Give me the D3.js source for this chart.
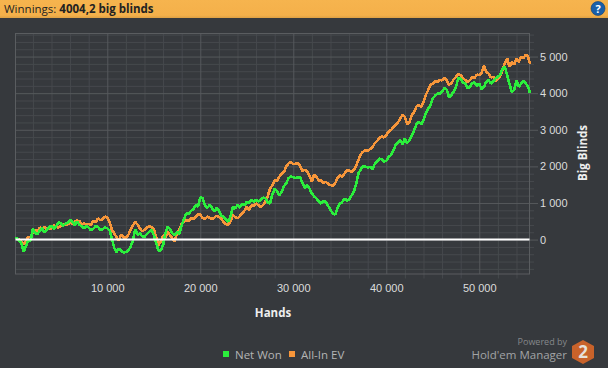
<!DOCTYPE html>
<html>
<head>
<meta charset="utf-8">
<script src="https://cdn.jsdelivr.net/npm/d3@7"></script>
<style>
  html, body { margin: 0; padding: 0; background: #36393d; }
  svg { display: block; font-family: "Open Sans", sans-serif; }
</style>
</head>
<body>
<div id="chart"></div>
<script>
const hands = [130, 250, 500, 750, 1000, 1250, 1500, 1750, 2000, 2250, 2500, 2750, 3000, 3250, 3500, 3750, 4000, 4250, 4500, 4750, 5000, 5250, 5500, 5750, 6000, 6250, 6500, 6750, 7000, 7250, 7500, 7750, 8000, 8250, 8500, 8750, 9000, 9250, 9500, 9750,
  10000, 10250, 10500, 10750, 11000, 11250, 11500, 11750, 12000, 12250, 12500, 12750, 13000, 13250, 13500, 13750, 14000, 14250, 14500, 14750, 15000, 15250, 15500, 15750, 16000, 16250, 16500, 16750, 17000, 17250, 17500, 17750, 18000, 18250, 18500, 18750, 19000, 19250, 19500, 19750,
  20000, 20250, 20500, 20750, 21000, 21250, 21500, 21750, 22000, 22250, 22500, 22750, 23000, 23250, 23500, 23750, 24000, 24250, 24500, 24750, 25000, 25250, 25500, 25750, 26000, 26250, 26500, 26750, 27000, 27250, 27500, 27750, 28000, 28250, 28500, 28750, 29000, 29250, 29500, 29750,
  30000, 30250, 30500, 30750, 31000, 31250, 31500, 31750, 32000, 32250, 32500, 32750, 33000, 33250, 33500, 33750, 34000, 34250, 34500, 34750, 35000, 35250, 35500, 35750, 36000, 36250, 36500, 36750, 37000, 37250, 37500, 37750, 38000, 38250, 38500, 38750, 39000, 39250, 39500, 39750,
  40000, 40250, 40500, 40750, 41000, 41250, 41500, 41750, 42000, 42250, 42500, 42750, 43000, 43250, 43500, 43750, 44000, 44250, 44500, 44750, 45000, 45250, 45500, 45750, 46000, 46250, 46500, 46750, 47000, 47250, 47500, 47750, 48000, 48250, 48500, 48750, 49000, 49250, 49500, 49750,
  50000, 50250, 50500, 50750, 51000, 51250, 51500, 51750, 52000, 52250, 52500, 52750, 53000, 53250, 53500, 53750, 54000, 54250, 54500, 54750, 55000, 55250, 55450];

const netWon = [30, 45, -15, -90, -330, -190, -15, -40, 305, 170, 150, 250, 315, 190, 260, 340, 380, 290, 370, 470, 440, 380, 440, 450, 550, 490, 395, 500, 405, 360, 305, 370, 330, 250, 295, 370, 350, 260, 280, 340,
  305, 250, 20, -230, -335, -250, -305, -350, -335, -310, -195, -30, 280, 130, 170, 90, 75, 150, 215, 260, 125, -90, -305, -300, -150, 180, 350, 290, 170, 120, 215, 150, 395, 560, 715, 690, 785, 830, 940, 900,
  1160, 1130, 940, 870, 940, 870, 760, 860, 805, 650, 625, 560, 485, 640, 895, 850, 940, 870, 985, 930, 1035, 1000, 1095, 1040, 1095, 1040, 1080, 1150, 1125, 1020, 985, 1230, 1395, 1330, 1215, 1310, 1465, 1540, 1680, 1720,
  1705, 1680, 1705, 1690, 1535, 1410, 1490, 1390, 1260, 1180, 1125, 1040, 985, 1060, 1035, 920, 805, 720, 680, 850, 985, 1020, 1125, 1070, 1080, 1200, 1305, 1500, 1805, 1920, 2010, 2000, 1965, 1990, 1920, 2060, 2125, 2210, 2200, 2130,
  2150, 2260, 2305, 2430, 2580, 2640, 2715, 2610, 2760, 2640, 2715, 2850, 2990, 3150, 3215, 3150, 3260, 3450, 3580, 3660, 3855, 3930, 3990, 3980, 4040, 4140, 4100, 3880, 3945, 4050, 4170, 4420, 4400, 4280, 4265, 4140, 4170, 4280, 4290, 4200,
  4265, 4110, 4170, 4310, 4355, 4260, 4325, 4400, 4445, 4500, 4670, 4720, 4490, 4250, 4035, 4090, 4355, 4170, 4265, 4350, 4265, 4180, 4004];

const allInEv = [50, 30, 5, -60, -130, -40, 75, 60, 215, 270, 225, 330, 305, 350, 285, 300, 305, 390, 350, 330, 370, 410, 395, 420, 460, 440, 485, 520, 505, 400, 440, 420, 425, 400, 515, 480, 580, 530, 560, 630,
  605, 480, 260, 170, 60, -20, 145, 60, 50, 120, 260, 380, 485, 410, 305, 230, 260, 330, 370, 340, 280, 80, -150, -60, 120, 50, 215, 120, 30, -50, 170, 270, 440, 490, 530, 500, 580, 560, 625, 690,
  680, 590, 560, 630, 600, 560, 600, 650, 625, 570, 485, 420, 395, 500, 670, 620, 580, 640, 715, 790, 895, 800, 940, 930, 985, 940, 895, 940, 1035, 1180, 1395, 1480, 1625, 1600, 1715, 1800, 1850, 2000, 2080, 2120,
  2060, 2070, 2090, 2000, 1870, 1910, 1850, 1740, 1580, 1780, 1715, 1600, 1625, 1540, 1580, 1520, 1490, 1470, 1535, 1680, 1760, 1720, 1805, 1880, 1895, 1850, 1895, 2020, 2170, 2330, 2400, 2440, 2420, 2470, 2510, 2630, 2690, 2770, 2815, 2790,
  2855, 2950, 2990, 3070, 3125, 3200, 3310, 3400, 3355, 3150, 3215, 3400, 3490, 3640, 3670, 3620, 3765, 3950, 4080, 4220, 4265, 4330, 4310, 4370, 4345, 4430, 4355, 4230, 4265, 4380, 4445, 4520, 4490, 4410, 4355, 4300, 4355, 4440, 4420, 4510,
  4490, 4540, 4760, 4580, 4535, 4430, 4445, 4330, 4400, 4470, 4625, 4820, 4945, 4720, 4855, 4780, 4945, 4850, 4990, 4960, 5055, 4990, 4805];

const xMajor = [10000, 20000, 30000, 40000, 50000];
const yMajor = [0, 1000, 2000, 3000, 4000, 5000];
const xMinor = d3.range(2000, 56000, 2000).filter(d => d % 10000 !== 0);
const yMinor = d3.range(-800, 5800, 200).filter(d => d % 1000 !== 0);

const width = 608, height = 368;
const left = 15.5, right = 529.5, top_ = 33.5, bottom = 270.5 + 3.5;

const svg = d3.select("#chart").append("svg")
  .attr("width", width)
  .attr("height", height)
  .style("background-color", "#36393d");

const x = d3.scaleLinear().domain([130, 55400]).range([left, right]);
const y = d3.scaleLinear().domain([-940, 5630]).range([bottom, top_]);

const fmt = d => d3.format(",")(d).replace(/,/g, " ");

// header strip
const grad = svg.append("defs").append("linearGradient")
  .attr("id", "head").attr("x1", 0).attr("x2", 0).attr("y1", 0).attr("y2", 1);
grad.append("stop").attr("offset", "0%").attr("stop-color", "#f6b44e");
grad.append("stop").attr("offset", "85%").attr("stop-color", "#f4b04a");
grad.append("stop").attr("offset", "100%").attr("stop-color", "#dda044");

svg.append("rect").attr("width", width).attr("height", 18).attr("fill", "url(#head)");

const head = svg.append("text").attr("x", 4).attr("y", 13)
  .style("font-size", "11.5px").attr("fill", "#222");
head.append("tspan").text("Winnings: ");
head.append("tspan").style("font-weight", "bold").text("4004,2 big blinds");

svg.append("circle").attr("cx", 598).attr("cy", 8.5).attr("r", 7)
  .attr("fill", "#1a5fa8").attr("stroke", "#123f70").attr("stroke-width", 0.6);
svg.append("text").attr("x", 598).attr("y", 12.5).attr("text-anchor", "middle")
  .style("font-size", "11px").style("font-weight", "bold").attr("fill", "#fff").text("?");

// minor grid with short outer ticks, then major grid on top
const minorX = svg.append("g").attr("transform", `translate(0,${bottom})`)
  .call(d3.axisBottom(x).tickValues(xMinor).tickSizeInner(4.5).tickSizeOuter(0).tickFormat(""));
minorX.selectAll("line").attr("y1", -(bottom - top_)).attr("stroke", "#46494d");
minorX.select(".domain").remove();

const minorY = svg.append("g").attr("transform", `translate(${right},0)`)
  .call(d3.axisRight(y).tickValues(yMinor).tickSizeInner(4.5).tickSizeOuter(0).tickFormat(""));
minorY.selectAll("line").attr("x1", -(right - left)).attr("stroke", "#46494d");
minorY.select(".domain").remove();

const majorX = svg.append("g").attr("transform", `translate(0,${bottom})`)
  .call(d3.axisBottom(x).tickValues(xMajor).tickSize(0).tickPadding(10).tickFormat(fmt));
majorX.selectAll("line").attr("y1", -(bottom - top_)).attr("stroke", "#56595c");
majorX.select(".domain").remove();
majorX.selectAll("text").attr("fill", "#dcdcdc").style("font-family", "inherit").style("font-size", "11px");

const majorY = svg.append("g").attr("transform", `translate(${right},0)`)
  .call(d3.axisRight(y).tickValues(yMajor).tickSizeInner(8.5).tickPadding(2).tickSizeOuter(0).tickFormat(fmt));
majorY.selectAll("line").attr("x1", -(right - left)).attr("stroke", "#56595c");
majorY.select(".domain").remove();
majorY.selectAll("text").attr("fill", "#dcdcdc").style("font-family", "inherit").style("font-size", "11px");

svg.append("rect")
  .attr("x", left).attr("y", top_)
  .attr("width", right - left).attr("height", bottom - top_)
  .attr("fill", "none").attr("stroke", "#5a5d60");

// series
const line = d3.line().x((d, i) => x(hands[i])).y(d => y(d));

svg.append("path").datum(allInEv)
  .attr("d", line).attr("fill", "none")
  .attr("stroke", "#f7963a").attr("stroke-width", 2.6).attr("stroke-linejoin", "bevel")
  .attr("shape-rendering", "crispEdges");
svg.append("path").datum(netWon)
  .attr("d", line).attr("fill", "none")
  .attr("stroke", "#2bee3c").attr("stroke-width", 2.6).attr("stroke-linejoin", "bevel")
  .attr("shape-rendering", "crispEdges");

svg.append("line")
  .attr("x1", left).attr("x2", right)
  .attr("y1", y(0)).attr("y2", y(0))
  .attr("stroke", "#fff").attr("stroke-width", 2);

// axis titles
svg.append("text").attr("x", 273).attr("y", 317).attr("text-anchor", "middle")
  .style("font-size", "11.5px").style("font-weight", "bold").attr("fill", "#eee").text("Hands");
svg.append("text").attr("transform", "translate(587,153) rotate(-90)").attr("text-anchor", "middle")
  .style("font-size", "11.5px").style("font-weight", "bold").attr("fill", "#eee").text("Big Blinds");

// legend
const legend = [["Net Won", "#2bee3c", 223], ["All-In EV", "#f7963a", 289]];
legend.forEach(d => {
  svg.append("rect").attr("x", d[2]).attr("y", 351).attr("width", 6).attr("height", 6).attr("fill", d[1]);
  svg.append("text").attr("x", d[2] + 12).attr("y", 359)
    .style("font-size", "11.5px").attr("fill", "#b4b4b4").text(d[0]);
});

// logo
svg.append("text").attr("x", 567).attr("y", 345).attr("text-anchor", "end")
  .style("font-size", "9px").attr("fill", "#85888b").text("Powered by");
svg.append("text").attr("x", 567).attr("y", 359).attr("text-anchor", "end")
  .style("font-size", "11.5px").attr("fill", "#a2a4a6").text("Hold'em Manager");
svg.append("polygon")
  .attr("points", "583,340 594,346 594,358 583,364 572,358 572,346")
  .attr("fill", "#c8622a");
svg.append("text").attr("x", 583).attr("y", 358).attr("text-anchor", "middle")
  .style("font-size", "17px").style("font-weight", "bold").attr("fill", "#e6e0da").text("2");
</script>
</body>
</html>
